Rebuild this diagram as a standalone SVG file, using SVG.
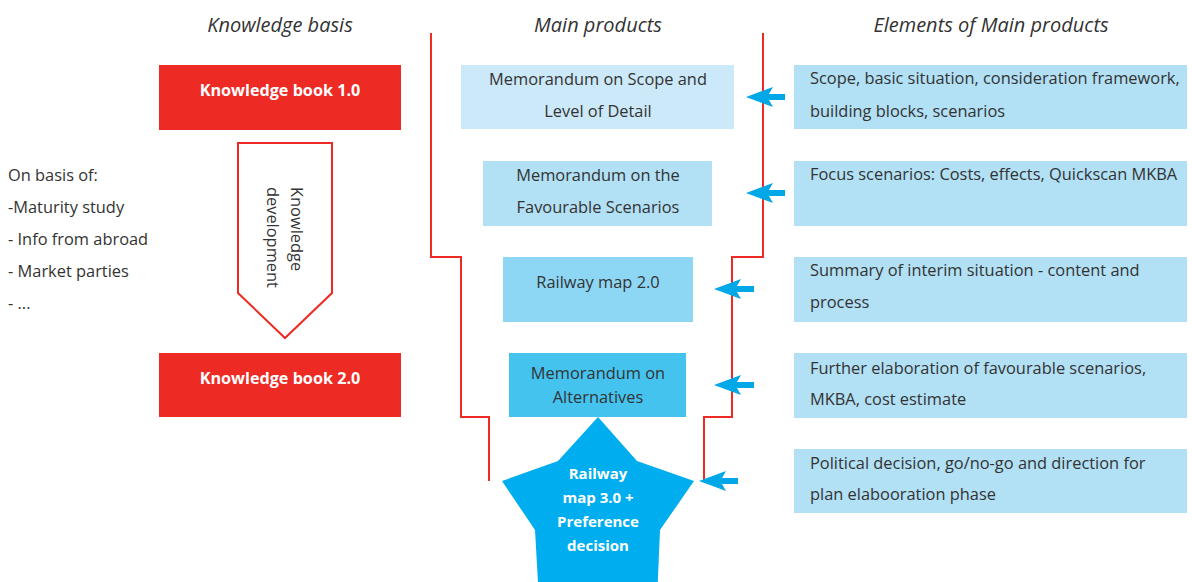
<svg xmlns="http://www.w3.org/2000/svg" width="1192" height="582" viewBox="0 0 1192 582">
<style>
.hdr{font-family:"Open Sans","Liberation Sans",sans-serif;font-style:italic;font-size:20px;fill:#333;text-anchor:middle}
.t{font-family:"Open Sans","Liberation Sans",sans-serif;font-size:16.4px;fill:#333}
.c{text-anchor:middle}
.w{font-family:"Open Sans","Liberation Sans",sans-serif;font-size:15px;font-weight:bold;fill:#fff;text-anchor:middle}
.b{font-size:16.2px}
.red{fill:#ee2a24}
.rl{fill:none;stroke:#ee2a24;stroke-width:2}
.el{fill:#b2e0f5}
.arr{fill:#00a8e8}
</style>
<rect width="1192" height="582" fill="#fff"/>
<g id="headers">
<text class="hdr" x="280" y="32">Knowledge basis</text>
<text class="hdr" x="598" y="32">Main products</text>
<text class="hdr" x="991" y="32">Elements of Main products</text>
</g>
<g id="basis-list">
<text class="t" x="8" y="181">On basis of:</text>
<text class="t" x="8" y="213">-Maturity study</text>
<text class="t" x="8" y="245">- Info from abroad</text>
<text class="t" x="8" y="277">- Market parties</text>
<text class="t" x="8" y="309">- ...</text>
</g>
<g id="kb1">
<rect class="red" x="159" y="65" width="242" height="65"/>
<text class="w b" x="280" y="96">Knowledge book 1.0</text>
</g>
<g id="kdev">
<polygon points="238,143 332,143 332,293 285,338 238,293" fill="#fff" stroke="#ee2a24" stroke-width="2"/>
<text class="t" transform="translate(291,187) rotate(90)">Knowledge</text>
<text class="t" transform="translate(267,187) rotate(90)">development</text>
</g>
<g id="kb2">
<rect class="red" x="159" y="353" width="242" height="64"/>
<text class="w b" x="280" y="384">Knowledge book 2.0</text>
</g>
<g id="connectors">
<polyline class="rl" points="431,33 431,257 461,257 461,417 489,417 489,481"/>
<polyline class="rl" points="763,33 763,257 732,257 732,417 704,417 704,481"/>
<path class="arr" d="M785,94 H769 L773,87 L746,97 L773,107 L769,100 H785 Z"/>
<path class="arr" d="M785,190 H769 L773,183 L746,193 L773,203 L769,196 H785 Z"/>
<path class="arr" d="M754,286 H737 L741,279 L714,289 L741,299 L737,292 H754 Z"/>
<path class="arr" d="M754,382 H737 L741,375 L714,385 L741,395 L737,388 H754 Z"/>
<path class="arr" d="M738,478 H722 L726,471 L699,481 L726,491 L722,484 H738 Z"/>
</g>
<g id="mp1">
<rect x="461" y="65" width="273" height="64" fill="#cbe9f8"/>
<text class="t c" x="598" y="85">Memorandum on Scope and</text>
<text class="t c" x="598" y="117">Level of Detail</text>
</g>
<g id="mp2">
<rect x="483" y="161" width="229" height="65" fill="#b2e0f5"/>
<text class="t c" x="598" y="181">Memorandum on the</text>
<text class="t c" x="598" y="213">Favourable Scenarios</text>
</g>
<g id="mp3">
<rect x="503" y="257" width="190" height="65" fill="#8dd7f5"/>
<text class="t c" x="598" y="288">Railway map 2.0</text>
</g>
<g id="mp4">
<rect x="509" y="353" width="177" height="64" fill="#45c3ef"/>
<text class="t c" x="598" y="379">Memorandum on</text>
<text class="t c" x="598" y="403">Alternatives</text>
</g>
<g id="star">
<polygon points="598,417 637,461 694,481 660,530 657,600 598,590 539,600 535,530 502,481 558,461" fill="#00aeef"/>
<text class="w" x="598" y="479">Railway</text>
<text class="w" x="598" y="503">map 3.0 +</text>
<text class="w" x="598" y="527">Preference</text>
<text class="w" x="598" y="551">decision</text>
</g>
<g id="el1">
<rect class="el" x="794" y="65" width="393" height="64"/>
<text class="t" x="810" y="84">Scope, basic situation, consideration framework,</text>
<text class="t" x="810" y="117">building blocks, scenarios</text>
</g>
<g id="el2">
<rect class="el" x="794" y="161" width="393" height="65"/>
<text class="t" x="810" y="180">Focus scenarios: Costs, effects, Quickscan MKBA</text>
</g>
<g id="el3">
<rect class="el" x="794" y="257" width="393" height="65"/>
<text class="t" x="810" y="276">Summary of interim situation - content and</text>
<text class="t" x="810" y="308">process</text>
</g>
<g id="el4">
<rect class="el" x="794" y="353" width="393" height="65"/>
<text class="t" x="810" y="374">Further elaboration of favourable scenarios,</text>
<text class="t" x="810" y="405">MKBA, cost estimate</text>
</g>
<g id="el5">
<rect class="el" x="794" y="449" width="393" height="64"/>
<text class="t" x="810" y="469">Political decision, go/no-go and direction for</text>
<text class="t" x="810" y="500">plan elabooration phase</text>
</g>
</svg>
